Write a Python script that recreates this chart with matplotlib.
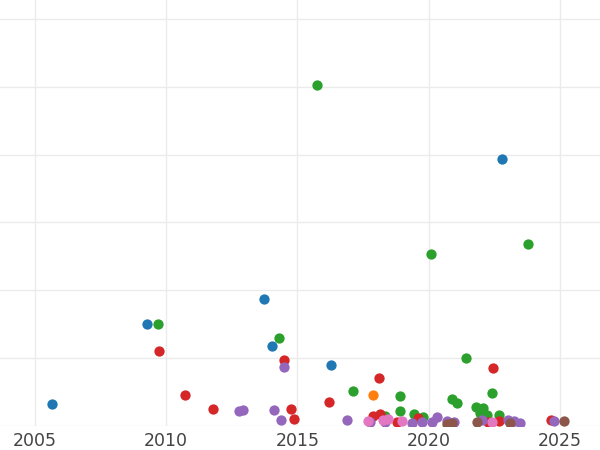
import matplotlib
matplotlib.use("Agg")
import matplotlib.pyplot as plt

# values (year, value in grid units)
blue_x = [2005.65, 2009.27, 2013.72, 2014.03, 2016.28, 2022.79]
blue_y = [0.32, 1.50, 1.87, 1.18, 0.90, 3.93]

orange_x = [2017.88]
orange_y = [0.46]

green_x = [2009.69, 2014.30, 2015.74, 2020.09, 2023.78, 2021.42, 2017.11, 2018.90,
           2018.90, 2020.89, 2021.08, 2022.41, 2021.80, 2022.07, 2021.95, 2022.22,
           2022.68, 2019.44, 2019.78, 2018.33]
green_y = [1.50, 1.29, 5.03, 2.53, 2.69, 1.00, 0.51, 0.44,
           0.22, 0.40, 0.34, 0.49, 0.28, 0.26, 0.19, 0.16,
           0.16, 0.18, 0.13, 0.15]

red_x = [2009.72, 2010.71, 2011.78, 2014.49, 2014.75, 2014.87, 2016.20, 2018.10,
         2022.45, 2024.66, 2017.88, 2018.14, 2018.79, 2019.59, 2022.26, 2022.68]
red_y = [1.10, 0.46, 0.25, 0.97, 0.25, 0.10, 0.35, 0.71,
         0.85, 0.09, 0.15, 0.18, 0.06, 0.12, 0.06, 0.07]

purple_x = [2012.77, 2012.92, 2014.10, 2014.37, 2014.49, 2016.89, 2017.76, 2018.33,
            2019.36, 2019.74, 2020.12, 2020.31, 2020.70, 2020.96, 2022.03, 2023.02,
            2023.25, 2023.48, 2024.77]
purple_y = [0.22, 0.24, 0.24, 0.09, 0.87, 0.09, 0.06, 0.06,
            0.04, 0.06, 0.06, 0.13, 0.07, 0.06, 0.09, 0.09,
            0.07, 0.04, 0.07]

brown_x = [2020.70, 2020.89, 2021.84, 2023.10, 2025.15]
brown_y = [0.03, 0.04, 0.06, 0.04, 0.07]

pink_x = [2017.69, 2018.26, 2018.45, 2018.98, 2022.41]
pink_y = [0.07, 0.09, 0.10, 0.07, 0.06]

groups = [
    (blue_x, blue_y, "#1f77b4"),
    (orange_x, orange_y, "#ff7f0e"),
    (green_x, green_y, "#2ca02c"),
    (red_x, red_y, "#d62728"),
    (purple_x, purple_y, "#9467bd"),
    (brown_x, brown_y, "#8c564b"),
    (pink_x, pink_y, "#e377c2"),
]

fig = plt.figure(figsize=(6, 4.5), dpi=100)
ax = fig.add_axes([0, 24 / 450, 1, 1 - 24 / 450])

for xs, ys, c in groups:
    ax.scatter(xs, ys, s=55, color=c, linewidths=0, zorder=3)

ax.set_xlim(2003.67, 2026.53)
ax.set_ylim(0, 6.28)
ax.set_xticks([2005, 2010, 2015, 2020, 2025])
ax.set_yticks([0, 1, 2, 3, 4, 5, 6])
ax.set_yticklabels([])
ax.grid(True, color="#ebebeb", linewidth=1)
ax.set_axisbelow(True)
for s in ax.spines.values():
    s.set_visible(False)
ax.tick_params(axis="both", length=0, labelsize=12.5, labelcolor="#444444", pad=4)

fig.savefig("out.png", dpi=100)
